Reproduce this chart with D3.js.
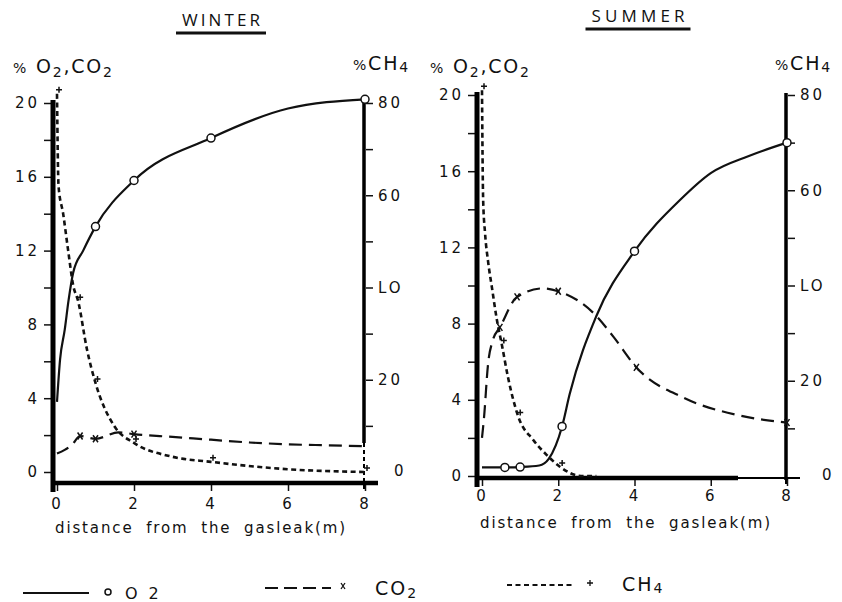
<!DOCTYPE html>
<html>
<head>
<meta charset="utf-8">
<script src="https://cdn.jsdelivr.net/npm/d3@7"></script>
<style>
  body { margin: 0; background: #fff; }
  svg text { font-family: "DejaVu Sans", sans-serif; fill: #111; }
</style>
</head>
<body>
<svg id="chart" width="842" height="602"></svg>
<script>
// axis ticks
const distTicks = [0, 2, 4, 6, 8]
const gasTicks = [0, 4, 8, 12, 16, 20]
const gasMinor = [2, 6, 10, 14, 18]
const ch4Ticks = [0, 20, 40, 60, 80]
const ch4TickLabels = ["0", "20", "LO", "60", "80"]
const ch4Minor = [10, 30, 50, 70]

// WINTER  (distance in m, % gas)
const winterO2Dist = [0, 0.08, 0.2, 0.3, 0.42, 0.68, 1, 2, 4, 6, 8]
const winterO2 = [3.8, 6.1, 7.7, 9.3, 10.8, 12.0, 13.3, 15.8, 18.1, 19.7, 20.2]
const winterO2Marks = [1, 2, 4, 8]

const winterCO2Dist = [0, 0.2, 0.4, 0.6, 1, 1.6, 2, 3, 4, 5, 6, 7, 8]
const winterCO2 = [1.0, 1.2, 1.5, 1.95, 1.8, 2.15, 2.05, 1.9, 1.75, 1.6, 1.5, 1.45, 1.4]
const winterCO2Marks = [0.6, 1, 2]

const winterCH4Dist = [0, 0.04, 0.16, 0.29, 0.42, 0.55, 0.78, 1, 1.5, 2, 3, 4, 6, 8]
const winterCH4 = [82, 62, 56, 48, 40.5, 37, 26.5, 19.3, 9.8, 6.3, 3.3, 2.2, 0.6, 0]
const winterCH4Marks = [0, 0.55, 1, 2, 4, 8]

// SUMMER
const summerO2Dist = [0, 0.6, 1, 1.5, 1.75, 2.1, 2.3, 3, 4, 5.2, 6, 7, 8]
const summerO2 = [0.45, 0.45, 0.47, 0.55, 0.9, 2.6, 4.3, 8.4, 11.8, 14.5, 15.9, 16.8, 17.5]
const summerO2Marks = [0.6, 1, 2.1, 4, 8]

const summerCO2Dist = [0, 0.05, 0.16, 0.28, 0.47, 0.92, 1.6, 2, 3, 3.45, 4.05, 5.3, 6.7, 8]
const summerCO2 = [2.0, 3.0, 5.9, 7.1, 7.8, 9.4, 9.85, 9.7, 8.4, 7.3, 5.7, 4.1, 3.2, 2.8]
const summerCO2Marks = [0.47, 0.92, 2, 4.05, 8]

const summerCH4Dist = [0, 0.03, 0.08, 0.16, 0.26, 0.39, 0.52, 0.68, 0.95, 1.34, 1.7, 2.05, 2.6, 3]
const summerCH4 = [81, 58, 51, 45, 39.6, 32.8, 27.6, 20.8, 12.5, 7.6, 4.4, 1.9, 0, 0]
const summerCH4Marks = [0, 0.52, 0.95, 2.05]

const legendNames = ["O2", "CO2", "CH4"]

const svg = d3.select("#chart")

const panels = [
  { title: "WINTER", titleX: 221, titleY: 26, titleW: 78, ulY: 33,
    x0: 57, x8: 365, y0: 472, y20: 103, axisY: 483, leftX: 53, xEnd: 378, thickEnd: 378,
    rightSolidEnd: 443, yTitleX: 13, ch4TitleX: 353, zeroDx: 16, tickPad: 7,
    o2: [winterO2Dist, winterO2, winterO2Marks],
    co2: [winterCO2Dist, winterCO2, winterCO2Marks],
    ch4: [winterCH4Dist, winterCH4, winterCH4Marks] },
  { title: "SUMMER", titleX: 638, titleY: 22, titleW: 93, ulY: 29,
    x0: 482, x8: 787, y0: 476, y20: 95, axisY: 478, leftX: 477, xEnd: 800, thickEnd: 738,
    rightSolidEnd: 480, yTitleX: 430, ch4TitleX: 775, zeroDx: 22, tickPad: 4,
    o2: [summerO2Dist, summerO2, summerO2Marks],
    co2: [summerCO2Dist, summerCO2, summerCO2Marks],
    ch4: [summerCH4Dist, summerCH4, summerCH4Marks] }
]

function pts(dist, vals) { return dist.map((d, i) => [d, vals[i]]) }
function marks(dist, vals, m) { return m.map(d => [d, vals[dist.indexOf(d)]]) }

function drawPanel(p) {
  const x = d3.scaleLinear().domain([0, 8]).range([p.x0, p.x8])
  const y = d3.scaleLinear().domain([0, 20]).range([p.y0, p.y20])
  const yc = d3.scaleLinear().domain([0, 80]).range([p.y0, p.y20])
  const g = svg.append("g")
  const rx = x(8) - 1

  // title + underline
  g.append("text").attr("x", p.titleX - p.titleW / 2).attr("y", p.titleY)
    .attr("textLength", p.titleW).attr("lengthAdjust", "spacing")
    .style("font-family", "Open Sans").style("font-size", "17px").text(p.title)
  g.append("line").attr("x1", p.titleX - p.titleW / 2 - 6).attr("x2", p.titleX + p.titleW / 2 + 6)
    .attr("y1", p.ulY).attr("y2", p.ulY).attr("stroke", "#111").attr("stroke-width", 3)

  // axis titles
  const t1 = g.append("text").attr("x", p.yTitleX).attr("y", 73).style("font-size", "19px").style("letter-spacing", "1.8px")
  t1.append("tspan").text("%").style("font-size", "14px")
  t1.append("tspan").text(" O")
  t1.append("tspan").text("2").attr("dy", 4).style("font-size", "14px")
  t1.append("tspan").text(",CO").attr("dy", -4)
  t1.append("tspan").text("2").attr("dy", 4).style("font-size", "14px")
  const t2 = g.append("text").attr("x", p.ch4TitleX).attr("y", 70).style("font-size", "19px").style("letter-spacing", "1.8px")
  t2.append("tspan").text("%").style("font-size", "14px")
  t2.append("tspan").text("CH")
  t2.append("tspan").text("4").attr("dy", 2).style("font-size", "14px")

  // left axis ticks
  const la = g.append("g").attr("transform", `translate(${p.leftX - 2},0)`)
    .call(d3.axisLeft(y).tickValues(gasTicks).tickSize(7).tickPadding(4))
  la.append("g").call(d3.axisLeft(y).tickValues(gasMinor).tickSize(7).tickFormat(""))
  // right axis ticks
  const ra = g.append("g").attr("transform", `translate(${rx + 2},0)`)
    .call(d3.axisRight(yc).tickValues(ch4Ticks).tickSize(7).tickPadding(5).tickFormat((d, i) => ch4TickLabels[i]))
  ra.append("g").call(d3.axisRight(yc).tickValues(ch4Minor).tickSize(7).tickFormat(""))
  ra.selectAll(".tick text").filter(d => d === 0).attr("dx", p.zeroDx).attr("dy", "0.2em")
  ra.selectAll(".tick").filter(d => d === 0).select("line").remove()
  // bottom axis ticks
  g.append("g").attr("transform", `translate(0,${p.axisY + 1})`)
    .call(d3.axisBottom(x).tickValues(distTicks).tickSize(7).tickPadding(p.tickPad))
  g.selectAll(".domain").remove()
  g.selectAll(".tick line").attr("stroke", "#111").attr("stroke-width", 1.5)
  g.selectAll(".tick text").style("font-size", "15px").style("letter-spacing", "3px")
    .style("font-family", "DejaVu Sans").attr("fill", "#111")

  // heavy axis lines
  g.append("line").attr("x1", p.leftX).attr("x2", p.leftX).attr("y1", y(20) - 3).attr("y2", p.axisY + 9)
    .attr("stroke", "#000").attr("stroke-width", 5)
  g.append("line").attr("x1", p.leftX).attr("x2", p.thickEnd).attr("y1", p.axisY).attr("y2", p.axisY)
    .attr("stroke", "#000").attr("stroke-width", 4.5)
  g.append("line").attr("x1", p.thickEnd).attr("x2", p.xEnd).attr("y1", p.axisY).attr("y2", p.axisY)
    .attr("stroke", "#000").attr("stroke-width", 2)
  g.append("line").attr("x1", rx).attr("x2", rx).attr("y1", yc(80) - 2).attr("y2", p.rightSolidEnd)
    .attr("stroke", "#000").attr("stroke-width", 3.5)
  g.append("line").attr("x1", rx).attr("x2", rx).attr("y1", p.rightSolidEnd).attr("y2", p.axisY + 9)
    .attr("stroke", "#000").attr("stroke-width", 2).attr("stroke-dasharray", "4,3")

  const lineFor = sc => d3.line().x(d => x(d[0])).y(d => sc(d[1])).curve(d3.curveMonotoneX)

  // CH4 dotted
  g.append("path").attr("d", lineFor(yc)(pts(p.ch4[0], p.ch4[1])))
    .attr("fill", "none").attr("stroke", "#111").attr("stroke-width", 2.6).attr("stroke-dasharray", "5,3.5")
  g.selectAll(".ch4mk").data(marks(...p.ch4)).join("path").attr("class", "ch4mk")
    .attr("transform", d => `translate(${x(d[0]) + 2},${yc(d[1]) - 4})`)
    .attr("d", "M-3,0H3M0,-3V3").attr("stroke", "#111").attr("stroke-width", 1.5)

  // CO2 dashed
  g.append("path").attr("d", lineFor(y)(pts(p.co2[0], p.co2[1])))
    .attr("fill", "none").attr("stroke", "#111").attr("stroke-width", 2.2).attr("stroke-dasharray", "13,7")
  g.selectAll(".co2mk").data(marks(...p.co2)).join("path").attr("class", "co2mk")
    .attr("transform", d => `translate(${x(d[0])},${y(d[1])})`)
    .attr("d", "M-2.5,-3.5L2.5,3.5M2.5,-3.5L-2.5,3.5").attr("stroke", "#111").attr("stroke-width", 1.5)

  // O2 solid
  g.append("path").attr("d", lineFor(y)(pts(p.o2[0], p.o2[1])))
    .attr("fill", "none").attr("stroke", "#111").attr("stroke-width", 2.2)
  g.selectAll(".o2mk").data(marks(...p.o2)).join("circle").attr("class", "o2mk")
    .attr("cx", d => x(d[0])).attr("cy", d => y(d[1])).attr("r", 4)
    .attr("fill", "#fff").attr("stroke", "#111").attr("stroke-width", 1.5)

  // x title
  g.append("text").attr("x", p.x0 - 2).attr("y", p.axisY + 50)
    .attr("textLength", 290).attr("lengthAdjust", "spacing")
    .style("font-size", "15px").style("word-spacing", "6px").text("distance from the gasleak(m)")
}

panels.forEach(drawPanel)

// legend
const lg = svg.append("g")
const lgX = i => 23 + i * 242
const lgY = [593, 588, 585]
const lgDash = [null, "13,6", "5,3.5"]
lg.selectAll(".lgline").data(legendNames).join("line")
  .attr("x1", (d, i) => lgX(i)).attr("x2", (d, i) => lgX(i) + 66)
  .attr("y1", (d, i) => lgY[i]).attr("y2", (d, i) => lgY[i])
  .attr("stroke", "#111").attr("stroke-width", 2.2).attr("stroke-dasharray", (d, i) => lgDash[i])
lg.append("circle").attr("cx", lgX(0) + 85).attr("cy", lgY[0] - 1).attr("r", 3)
  .attr("fill", "#fff").attr("stroke", "#111").attr("stroke-width", 1.5)
lg.append("path").attr("transform", `translate(${lgX(1) + 78},${lgY[1] - 2})`)
  .attr("d", "M-2,-3L2,3M2,-3L-2,3").attr("stroke", "#111").attr("stroke-width", 1.3)
lg.append("path").attr("transform", `translate(${lgX(2) + 83},${lgY[2] - 2})`)
  .attr("d", "M-3,0H3M0,-3V3").attr("stroke", "#111").attr("stroke-width", 1.3)

lg.append("text").attr("x", lgX(0) + 102).attr("y", lgY[0] + 6).style("font-size", "16px")
  .style("letter-spacing", "11px").text("O2")
const c2 = lg.append("text").attr("x", lgX(1) + 110).attr("y", lgY[1] + 7).style("font-size", "19px").style("letter-spacing", "2px")
c2.append("tspan").text("CO")
c2.append("tspan").text("2").attr("dy", 3).style("font-size", "14px")
const c4 = lg.append("text").attr("x", lgX(2) + 115).attr("y", lgY[2] + 6).style("font-size", "19px").style("letter-spacing", "2px")
c4.append("tspan").text("CH")
c4.append("tspan").text("4").attr("dy", 2).style("font-size", "14px")
</script>
</body>
</html>
